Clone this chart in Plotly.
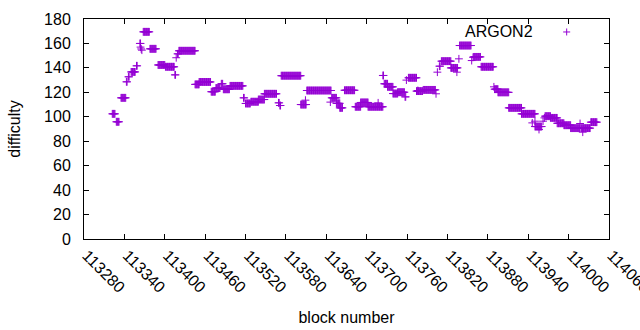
import plotly.graph_objects as go

# Runs of constant difficulty: first block, last block, difficulty
run_first = [113322, 113328, 113335, 113343, 113346, 113350, 113358, 113363, 113364, 113365,
             113366, 113368, 113378, 113390, 113401, 113415, 113417, 113419, 113421, 113445,
             113451, 113469, 113476, 113484, 113487, 113497, 113517, 113520, 113528, 113539,
             113548, 113569, 113571, 113573, 113602, 113609, 113611, 113646, 113648, 113655,
             113660, 113667, 113683, 113691, 113702, 113717, 113724, 113726, 113731, 113739,
             113746, 113757, 113759, 113762, 113774, 113776, 113784, 113803, 113805, 113808,
             113811, 113825, 113834, 113837, 113838, 113856, 113858, 113859, 113870, 113889,
             113890, 113895, 113911, 113930, 113946, 113950, 113950, 113956, 113962, 113964,
             113965, 113973, 113983, 113993, 114003, 114017, 114021, 114019, 114033]
run_last = [113326, 113332, 113342, 113344, 113347, 113356, 113359, 113364, 113364, 113365,
            113366, 113377, 113387, 113400, 113414, 113416, 113417, 113420, 113445, 113451,
            113468, 113475, 113482, 113486, 113496, 113516, 113518, 113527, 113539, 113548,
            113566, 113570, 113572, 113602, 113610, 113609, 113647, 113646, 113655, 113660,
            113664, 113682, 113691, 113702, 113724, 113717, 113725, 113731, 113739, 113746,
            113756, 113758, 113759, 113774, 113783, 113776, 113802, 113803, 113805, 113809,
            113825, 113835, 113834, 113837, 113855, 113856, 113858, 113869, 113888, 113889,
            113895, 113911, 113930, 113950, 113946, 113950, 113960, 113956, 113962, 113964,
            113973, 113983, 113993, 114003, 114017, 114017, 114021, 114032, 114042]
run_difficulty = [102.4, 95.9, 115.5, 128.6, 132.7, 136.7, 141.7, 160.0, 157.0, 155.5,
                  154.5, 169.5, 155.6, 142.4, 140.9, 134.3, 148.3, 151.5, 154.0, 126.5,
                  128.5, 120.5, 123.5, 127.0, 122.5, 125.3, 115.5, 110.9, 112.3, 114.1,
                  118.8, 111.4, 109.2, 133.6, 110.0, 113.6, 121.5, 112.0, 115.5, 111.0,
                  107.3, 121.7, 108.2, 111.7, 108.2, 111.4, 133.8, 127.0, 124.5, 119.0,
                  120.1, 116.3, 130.0, 131.9, 121.0, 121.5, 122.0, 118.8, 136.5, 141.4,
                  145.5, 140.0, 136.5, 147.4, 158.3, 146.0, 148.7, 149.0, 140.9, 124.5,
                  122.6, 120.0, 107.3, 102.4, 95.0, 96.4, 92.0, 89.6, 96.4, 99.1,
                  100.5, 99.1, 94.7, 93.1, 90.7, 94.5, 87.4, 90.7, 95.6]

x_ticks = list(range(113280, 114061, 60))
y_ticks = list(range(0, 181, 20))
series_name = "ARGON2"

blocks = []
difficulty = []
for first, last, value in zip(run_first, run_last, run_difficulty):
    for b in range(first, last + 1):
        blocks.append(b)
        difficulty.append(value)

COLOR = "#9400D3"
FONT = "Liberation Sans, Arial, sans-serif"

fig = go.Figure()
fig.add_trace(go.Scatter(
    x=blocks, y=difficulty, mode="markers", name=series_name, showlegend=False,
    cliponaxis=False,
    marker=dict(symbol="cross-thin", size=5.6, color=COLOR,
                line=dict(color=COLOR, width=1)),
))

# legend key (gnuplot style: text, then symbol on the right)
fig.add_annotation(text=series_name, xref="paper", yref="paper", x=0.859, y=0.941,
                   xanchor="right", yanchor="middle", showarrow=False,
                   font=dict(family=FONT, size=16, color="black"))
fig.add_shape(type="path", xref="paper", yref="paper", xsizemode="pixel", ysizemode="pixel",
              xanchor=0.9194, yanchor=0.941,
              path="M-3.5,0 H3.5 M0,-3.5 V3.5", line=dict(color=COLOR, width=1))

axis_common = dict(showline=True, linecolor="black", linewidth=1, mirror="ticks",
                   ticks="inside", ticklen=5, tickcolor="black", showgrid=False,
                   zeroline=False, automargin=False,
                   tickfont=dict(family=FONT, size=16, color="black"))

fig.update_xaxes(range=[113280, 114060], tickvals=x_ticks, ticktext=[str(v) for v in x_ticks],
                 tickangle=45, ticklabeloverflow="allow", ticklabelshift=3,
                 title=dict(text="block number", standoff=16,
                            font=dict(family=FONT, size=16, color="black")),
                 **axis_common)
fig.update_yaxes(range=[0, 180], tickvals=y_ticks, ticktext=[str(v) for v in y_ticks],
                 ticklabelstandoff=9,
                 title=dict(text="difficulty", standoff=19,
                            font=dict(family=FONT, size=16, color="black")),
                 **axis_common)

fig.update_layout(width=640, height=330, margin=dict(l=84, r=31, t=19, b=91),
                  paper_bgcolor="white", plot_bgcolor="white",
                  font=dict(family=FONT, size=16, color="black"))

fig.write_html("out.html", config={"displayModeBar": False},
               post_script="document.body.style.margin='0';")
